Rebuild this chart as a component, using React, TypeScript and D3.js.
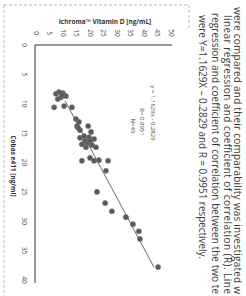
import React from "react";
import * as d3 from "d3";

const cobas = [8.3, 8.0, 8.2, 8.9, 8.7, 9.2, 8.5, 10.6, 10.4, 10.6, 12.6, 13.1, 13.8, 14.5, 14.1, 13.8, 14.8, 15.8, 15.5, 15.7, 16.0, 16.9, 16.7, 17.0, 17.4, 16.3, 16.3, 17.4, 19.7, 19.2, 19.7, 19.6, 19.7, 21.4, 25.0, 26.9, 28.3, 29.3, 30.5, 31.7, 33.0, 37.8];
const ichroma = [7.4, 8.5, 10.0, 9.3, 11.1, 8.1, 9.6, 6.7, 10.4, 13.3, 14.8, 15.9, 15.2, 16.3, 15.6, 19.3, 20.4, 16.3, 17.8, 19.6, 21.5, 17.0, 18.9, 20.7, 22.2, 18.1, 20.0, 18.5, 17.0, 20.0, 21.5, 23.3, 26.7, 25.9, 22.6, 25.6, 28.1, 33.3, 35.9, 38.1, 38.5, 45.2];
const cobasTicks = [0, 5, 10, 15, 20, 25, 30, 35, 40];
const ichromaTicks = [0, 5, 10, 15, 20, 25, 30, 35, 40, 45, 50];
const slope = 1.1629;
const intercept = -0.2829;
const fitRange = [9.5, 37.8];
const statLines = ["y = 1.1629x - 0.2829", "R= 0.9951", "N=45"];
const paragraph = [
  "were compared and their comparability was investigated w",
  "linear regression and coefficient of correlation (R). Line",
  "regression and coefficient of correlation between the two te",
  "were Y=1.1629X \u2013 0.2829 and R = 0.9951 respectively.",
];

export default function App() {
  const W = 246, H = 296;
  // Page is rotated 90° clockwise: Cobas (x) runs downward, ichroma (y) runs rightward.
  const sx = d3.scaleLinear().domain([0, 40]).range([45, 280]);
  const sy = d3.scaleLinear().domain([0, 50]).range([36, 171]);
  const pts = cobas.map((c, i) => [c, ichroma[i]]);
  const fit = fitRange.map((c) => [sy(slope * c + intercept), sx(c)]);
  const line = d3.line()(fit as [number, number][]);
  const font = "'Open Sans', sans-serif";
  const paraX = [234, 223.5, 211.5, 199];
  const paraStart = [7, 15, 13, 15];
  const paraLen = [287, 279, 281, 244];
  const statX = [153, 142, 133];
  const statY = [113, 122, 126];
  return (
    <svg width={W} height={H} style={{ position: "absolute", left: 0, top: 0, background: "#fff" }}>
      {/* scan frame */}
      <g stroke="#aaa" strokeWidth={0.8} strokeDasharray="3,2" fill="none">
        <line x1={4} y1={5} x2={4} y2={296} />
        <line x1={4} y1={5} x2={189} y2={5} />
        <line x1={189} y1={5} x2={189} y2={30} />
      </g>
      {/* axes */}
      <line x1={sy(0) - 1} y1={sx(0)} x2={sy(50) + 1} y2={sx(0)} stroke="#333" strokeWidth={1} />
      <line x1={sy(0) - 1} y1={sx(0)} x2={sy(0) - 1} y2={sx(40) + 3} stroke="#333" strokeWidth={1} />
      {ichromaTicks.map((t) => (
        <text key={"iy" + t} transform={`translate(${sy(t)},33) rotate(90)`} textAnchor="middle" dominantBaseline="central" fontSize={6.5} fontFamily={font} fill="#444">{t}</text>
      ))}
      {cobasTicks.map((t) => (
        <text key={"cx" + t} transform={`translate(24,${sx(t)}) rotate(90)`} textAnchor="middle" dominantBaseline="central" fontSize={6.5} fontFamily={font} fill="#444">{t}</text>
      ))}
      <text x={105} y={24} textAnchor="middle" fontSize={6.5} fontWeight="bold" fontFamily={font} fill="#333">Ichroma™ Vitamin D [ng/mL]</text>
      <text transform={`translate(13,166) rotate(90)`} textAnchor="middle" dominantBaseline="central" fontSize={6.5} fontWeight="bold" fontFamily={font} fill="#333">Cobas e411 [ng/ml]</text>
      {/* fit line */}
      <path d={line || ""} stroke="#444" strokeWidth={0.8} fill="none" />
      {/* points */}
      {pts.map(([c, v], i) => (
        <circle key={i} cx={sy(v)} cy={sx(c)} r={2.6} fill="#5a5a5a" stroke="#777" strokeWidth={0.5} />
      ))}
      {statLines.map((s, i) => (
        <text key={s} transform={`translate(${statX[i]},${statY[i]}) rotate(90)`} textAnchor="middle" dominantBaseline="central" fontSize={6} fontFamily={font} fill="#444">{s}</text>
      ))}
      {paragraph.map((s, i) => (
        <text key={i} transform={`translate(${paraX[i]},${paraStart[i]}) rotate(90)`} fontSize={10} fontFamily={font} fill="#3a3a3a" textLength={paraLen[i]} lengthAdjust="spacing">{s}</text>
      ))}
    </svg>
  );
}
